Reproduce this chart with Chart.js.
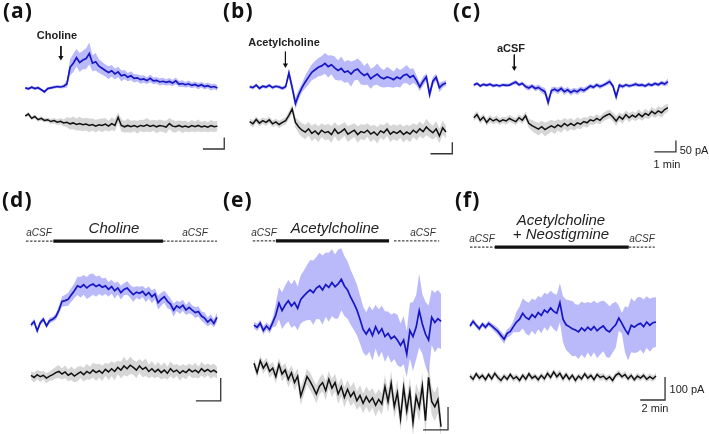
<!DOCTYPE html>
<html>
<head>
<meta charset="utf-8">
<script src="https://cdn.jsdelivr.net/npm/chart.js@4.4.1/dist/chart.umd.min.js"></script>
<style>
    html, body { margin: 0; padding: 0; background: #fff; }
    #fig { position: relative; width: 709px; height: 434px; overflow: hidden; font-family: "Liberation Sans", Arial, sans-serif; color: #111; }
    #fig canvas { position: absolute; }
    .lbl { position: absolute; white-space: nowrap; line-height: 1; transform: translate(-50%, -50%); }
    .panel { font-family: "Open Sans", sans-serif; font-weight: 700; font-size: 21px; transform: none; letter-spacing: 1px; }
    .drug { font-weight: 700; font-size: 11px; color: #222; }
    .drug-i { font-style: italic; font-size: 15px; color: #222; }
    .csf-i { font-style: italic; font-size: 10px; color: #333; }
    .sb { font-size: 11px; color: #222; }
</style>
</head>
<body>
<div id="fig"></div>
<script>
// --- Sample times (min) ---
const TIME_TOP = [0,0.15,0.3,0.45,0.6,0.75,0.9,1.05,1.2,1.35,1.5,1.65,1.8,1.95,2.1,2.25,2.4,2.55,2.7,2.85,3,3.15,3.3,3.45,3.6,3.75,3.9,4.05,4.2,4.35,4.5,4.65,4.8,4.95,5.1,5.25,5.4,5.55,5.7,5.85,6,6.15,6.3,6.45,6.6,6.75,6.9,7.05,7.2,7.35,7.5,7.65,7.8,7.95,8.1,8.25,8.4,8.55,8.7,8.85,9];
const TIME_BOTTOM = [0,0.25,0.5,0.75,1,1.25,1.5,1.75,2,2.25,2.5,2.75,3,3.25,3.5,3.75,4,4.25,4.5,4.75,5,5.25,5.5,5.75,6,6.25,6.5,6.75,7,7.25,7.5,7.75,8,8.25,8.5,8.75,9,9.25,9.5,9.75,10,10.25,10.5,10.75,11,11.25,11.5,11.75,12,12.25,12.5,12.75,13,13.25,13.5,13.75,14,14.25,14.5,14.75,15];

// --- (a) Choline, current in pA (mean and spread) ---
const A_BLUE = [0,-4,3,-3,1,-8,-17,-3,0,3, 6,4,7,17,90,108,132,111,122,128, 150,108,114,95,86,76,67,75,61,70, 53,58,47,53,42,44,36,39,32,42, 31,33,26,29,24,28,21,31,17,19, 14,18,11,15,8,14,6,10,3,6, 0];
const A_BLUE_SD = [6,6,7,6,7,6,7,6,6,7, 6,7,8,15,35,40,38,42,40,45, 48,35,38,30,28,26,28,25,24,22, 24,20,18,20,18,16,18,16,15,17, 15,14,16,15,14,15,14,15,13,14, 12,14,13,12,14,12,13,12,14,12, 13];
const A_BLACK = [-122,-114,-133,-125,-139,-133,-142,-139,-147,-143, -150,-146,-153,-150,-157,-153,-160,-156,-161,-158, -164,-160,-167,-161,-164,-158,-167,-156,-164,-128, -164,-170,-164,-170,-165,-171,-164,-167,-161,-168, -163,-170,-164,-167,-171,-156,-167,-170,-164,-171, -167,-172,-165,-170,-164,-171,-167,-172,-165,-170, -167];
const A_BLACK_SD = [8,10,8,9,8,10,9,10,11,12, 12,14,15,22,25,28,26,30,27,28, 30,26,28,25,30,27,24,28,26,22, 28,25,30,26,24,28,25,27,30,26, 24,28,26,25,28,24,27,25,22,26, 24,22,25,23,26,22,24,22,25,23, 22];

// --- (b) Acetylcholine ---
const B_BLUE = [1,-3,8,-6,3,-1,7,-3,3,0, -6,1,61,-3,-72,-33,-3,22,43,64, 75,86,92,103,89,97,83,72,81,64, 70,56,72,78,61,50,58,36,47,56, 42,36,44,39,32,43,36,50,56,42, 50,28,0,25,44,-33,25,42,-3,11, 17];
const B_BLUE_SD = [7,8,7,8,7,8,7,8,7,8, 8,10,20,22,25,22,20,28,32,35, 38,40,42,45,48,42,50,44,52,46, 48,55,44,46,50,42,48,44,40,46, 42,38,44,40,36,42,38,34,40,36, 32,22,18,20,16,24,18,16,20,14, 12];
const B_BLACK = [-152,-161,-142,-158,-147,-155,-144,-161,-153,-164, -155,-147,-124,-96,-155,-175,-189,-197,-183,-203, -192,-207,-189,-200,-195,-208,-184,-203,-195,-183, -206,-197,-189,-208,-195,-200,-189,-206,-197,-211, -192,-200,-184,-206,-195,-203,-192,-208,-197,-206, -189,-200,-183,-195,-175,-189,-200,-183,-214,-178, -197];
const B_BLACK_SD = [14,16,14,15,14,16,14,15,14,16, 15,16,18,20,22,28,30,32,30,34, 32,35,30,33,34,36,30,34,32,30, 35,32,30,36,32,34,30,35,32,36, 30,33,30,35,32,34,30,35,32,36, 30,34,32,30,36,32,30,34,32,30, 28];

// --- (c) aCSF ---
const C_BLUE = [0,7,-4,3,-1,4,-3,0,-4,1, -1,0,7,13,1,7,-7,-13,-4,-15, -10,-21,-29,-76,-24,-18,-26,-15,-29,-21, -32,-24,-29,-18,-24,-15,-4,-10,1,-7, -1,7,15,-4,-51,-1,-7,1,-4,-1, 4,-1,1,-4,4,-1,7,1,10,4, 15];
const C_BLUE_SD = [7,7,8,7,8,7,8,7,8,7, 8,7,8,9,8,8,10,12,10,12, 12,14,16,22,14,12,14,12,14,12, 14,12,13,12,12,11,10,10,9,10, 9,10,12,10,20,10,9,8,9,8, 9,8,9,8,9,8,9,8,10,10, 14];
const C_BLACK = [-143,-129,-154,-140,-163,-146,-157,-149,-160,-152, -157,-146,-153,-160,-143,-154,-134,-167,-177,-185, -193,-182,-195,-186,-178,-186,-174,-182,-168,-178, -168,-177,-165,-171,-160,-165,-152,-157,-146,-154, -140,-132,-126,-140,-157,-138,-149,-129,-143,-132, -140,-126,-138,-124,-132,-115,-126,-113,-121,-107, -99];
const C_BLACK_SD = [14,16,15,14,16,15,14,16,15,14, 16,15,14,16,15,16,18,20,24,26, 28,26,30,28,26,28,25,27,24,26, 24,22,24,22,20,22,20,18,20,18, 18,20,18,20,22,18,20,18,20,18, 18,20,18,20,18,20,18,20,22,20, 18];

// --- (d) Choline, bath ---
const D_BLUE = [0,15,-25,10,25,-4,19,25,36,65, 102,106,112,131,149,170,164,175,161,172, 178,167,175,164,170,155,167,149,161,141, 155,161,146,132,143,138,146,129,141,123, 135,97,112,123,103,91,65,83,74,86, 65,77,65,54,59,39,30,13,25,7, 33];
const D_BLUE_SD = [10,12,12,11,12,10,12,11,14,18, 22,25,28,30,32,40,45,42,48,50, 46,44,40,38,35,32,30,34,28,30, 26,30,28,32,26,28,24,30,26,28, 24,30,28,26,30,24,28,22,26,24, 22,26,20,24,22,20,24,20,22,18, 20];
const D_BLACK = [-219,-228,-216,-225,-219,-231,-222,-216,-207,-202, -213,-204,-219,-210,-222,-213,-204,-216,-202,-210, -196,-207,-199,-210,-193,-204,-190,-202,-184,-196, -178,-190,-175,-184,-196,-178,-193,-184,-202,-190, -204,-193,-207,-196,-210,-190,-204,-196,-210,-199, -207,-193,-204,-196,-207,-190,-202,-193,-204,-196, -207];
const D_BLACK_SD = [18,22,20,24,18,22,20,24,26,28, 24,28,26,30,28,32,26,30,34,28, 32,36,30,34,28,36,32,38,30,36, 40,34,38,32,36,30,34,38,30,34, 28,32,30,34,28,32,30,26,32,28, 30,26,28,32,26,30,28,26,30,28, 26];

// --- (e) Acetylcholine, bath ---
const E_BLUE = [4,-6,12,-20,0,-15,15,48,99,67, 91,110,87,102,77,116,131,145,157,145, 165,174,157,180,168,189,171,183,203,174, 157,125,99,70,29,-15,-35,-12,-41,-3, -32,-12,-46,-32,-55,-44,-61,-84,-61,-122, -20,-46,-6,67,9,-35,-61,38,15,32, 20];
const E_BLUE_SD = [14,16,15,18,16,18,20,50,70,80, 85,90,95,100,95,105,110,120,130,140, 135,145,150,140,150,145,140,150,135,130, 125,120,115,110,105,100,95,100,110,95, 105,100,110,95,105,100,110,95,105,100, 120,150,140,160,130,140,150,120,130,125, 120];
const E_BLACK = [-162,-203,-151,-183,-162,-197,-183,-220,-167,-209, -191,-232,-203,-246,-218,-305,-264,-220,-241,-267, -296,-262,-246,-281,-232,-270,-246,-296,-264,-310, -275,-307,-287,-325,-302,-336,-307,-331,-313,-345, -319,-339,-264,-328,-249,-351,-290,-403,-267,-370, -283,-420,-306,-354,-261,-412,-223,-328,-351,-319, -438];
const E_BLACK_SD = [20,24,22,26,24,28,26,30,28,32, 30,34,32,36,34,40,36,34,38,36, 40,36,38,42,36,40,38,42,40,44, 40,42,44,40,46,42,44,46,42,48, 44,46,50,48,52,50,55,52,58,54, 58,60,56,62,58,60,64,58,62,60, 56];

// --- (f) Acetylcholine + Neostigmine ---
const F_BLUE = [-4,16,-1,-16,4,-10,7,-4,-16,-28, -45,-62,-36,-28,-7,13,25,51,33,25, 45,33,54,42,65,54,74,59,51,97, 25,1,-7,-16,-22,-30,-13,-25,-10,-22, -7,-25,-13,-4,-22,-30,-13,1,30,7, -19,-39,-1,-10,1,7,-7,13,-1,10, 13];
const F_BLUE_SD = [10,12,10,12,10,12,11,12,14,16, 18,20,18,20,25,45,55,65,70,72, 70,75,72,78,75,80,75,78,80,85, 100,110,115,120,112,118,115,120,110,118, 112,120,115,110,118,112,108,100,55,45, 100,115,118,112,120,115,118,112,115,110, 108];
const F_BLACK = [-222,-236,-212,-231,-219,-238,-215,-234,-210,-228, -241,-222,-236,-215,-234,-225,-241,-219,-236,-212, -231,-222,-238,-219,-234,-210,-228,-204,-225,-210, -234,-215,-236,-219,-241,-222,-234,-212,-231,-219, -238,-215,-228,-222,-236,-225,-241,-219,-210,-225, -215,-234,-219,-238,-222,-231,-219,-236,-225,-234, -222];
const F_BLACK_SD = [12,14,12,15,13,14,12,15,13,14, 15,13,14,12,15,13,14,12,15,13, 14,12,15,13,16,14,15,13,16,14, 15,13,14,12,15,13,14,12,15,13, 14,12,15,13,14,12,15,13,14,12, 15,13,14,12,15,13,14,12,15,13, 14];

// --- Drug application (min) ---
const PUFF_TIMES = [1.67, 1.64, 1.88];              // arrows in (a) (b) (c)
const BATH_WINDOWS = [[1.8, 10.65], [1.76, 10.83], [2.0, 12.8]]; // (d) (e) (f)
const WASH_ENDS = [15, 14.85, 14.9];

const BLUE = '#1616c4';
const BLUE_BAND = 'rgba(118,118,246,0.5)';
const BLACK = '#111111';
const GREY_BAND = 'rgba(140,140,140,0.36)';

// --- Panel geometry (page pixels) ---
const K_TOP = 50 / 12, K_BOT = 100 / 23;
const PANELS = [
    { left: 0,   top: 0,   w: 236, h: 172, x0: 22,  pxMin: 22.1,  y0: 88,  k: K_TOP, time: TIME_TOP, blue: A_BLUE, blueSd: A_BLUE_SD, black: A_BLACK, blackSd: A_BLACK_SD, bar: [9.32, -267, 1, 50], puff: [0, 183, 133] },
    { left: 236, top: 0,   w: 230, h: 172, x0: 246, pxMin: 22.6,  y0: 87,  k: K_TOP, time: TIME_TOP, blue: B_BLUE, blueSd: B_BLUE_SD, black: B_BLACK, blackSd: B_BLACK_SD, bar: [9.29, -292, 1, 50], puff: [1, 154, 96] },
    { left: 462, top: 0,   w: 247, h: 172, x0: 470, pxMin: 22.3,  y0: 85,  k: K_TOP, time: TIME_TOP, blue: C_BLUE, blueSd: C_BLUE_SD, black: C_BLACK, blackSd: C_BLACK_SD, bar: [9.37, -292, 1, 50], puff: [2, 133, 75] },
    { left: 0,   top: 172, w: 236, h: 262, x0: 31,  pxMin: 12.4,  y0: 325, k: K_BOT, time: TIME_BOTTOM, blue: D_BLUE, blueSd: D_BLUE_SD, black: D_BLACK, blackSd: D_BLACK_SD, bar: [15.3, -330, 2, 100], bath: [0, -0.4, 365] },
    { left: 236, top: 172, w: 230, h: 262, x0: 254, pxMin: 12.47, y0: 326, k: K_BOT, time: TIME_BOTTOM, blue: E_BLUE, blueSd: E_BLUE_SD, black: E_BLACK, blackSd: E_BLACK_SD, bar: [15.56, -452, 2, 100], bath: [1, -0.1, 370] },
    { left: 462, top: 172, w: 247, h: 262, x0: 470, pxMin: 12.4,  y0: 325, k: K_BOT, time: TIME_BOTTOM, blue: F_BLUE, blueSd: F_BLUE_SD, black: F_BLACK, blackSd: F_BLACK_SD, bar: [15.73, -326, 2, 100], bath: [2, 0.0, 339] }
];

// --- Text labels: [text, x, y, class] ---
const LABELS = [
    ['(a)', 3, 0, 'panel'], ['(b)', 223, 0, 'panel'], ['(c)', 453, 0, 'panel'],
    ['(d)', 2, 189, 'panel'], ['(e)', 223, 189, 'panel'], ['(f)', 455, 189, 'panel'],
    ['Choline', 57, 35, 'drug'], ['Acetylcholine', 284, 42, 'drug'], ['aCSF', 511, 48, 'drug'],
    ['50 pA', 694, 150, 'sb'], ['1 min', 667, 164, 'sb'],
    ['Choline', 114, 227, 'drug-i'], ['Acetylcholine', 335, 227, 'drug-i'],
    ['Acetylcholine', 561, 219, 'drug-i'], ['+ Neostigmine', 561, 233, 'drug-i'],
    ['aCSF', 39, 233, 'csf-i'], ['aCSF', 195, 233, 'csf-i'], ['aCSF', 264, 233, 'csf-i'],
    ['aCSF', 423, 233, 'csf-i'], ['aCSF', 482, 239, 'csf-i'], ['aCSF', 642, 239, 'csf-i'],
    ['100 pA', 687, 389, 'sb'], ['2 min', 655, 408, 'sb']
];

const fig = document.getElementById('fig');

function series(time, vals, spread, sign) {
    return time.map((t, i) => ({ x: t, y: vals[i] + (spread ? sign * spread[i] : 0) }));
}

function line(data, color, width, extra) {
    return Object.assign({ data: data, borderColor: color, borderWidth: width, pointRadius: 0, tension: 0, fill: false, order: 0 }, extra || {});
}

function buildPanel(p) {
    const cv = document.createElement('canvas');
    cv.width = p.w; cv.height = p.h;
    cv.style.left = p.left + 'px'; cv.style.top = p.top + 'px';
    fig.appendChild(cv);

    const datasets = [
        line(series(p.time, p.blue, p.blueSd, 1), 'transparent', 0, { backgroundColor: BLUE_BAND, fill: '+1', order: 4 }),
        line(series(p.time, p.blue, p.blueSd, -1), 'transparent', 0, { order: 4 }),
        line(series(p.time, p.black, p.blackSd, 1), 'transparent', 0, { backgroundColor: GREY_BAND, fill: '+1', order: 3 }),
        line(series(p.time, p.black, p.blackSd, -1), 'transparent', 0, { order: 3 }),
        line(series(p.time, p.blue), BLUE, 1.7, { order: 1 }),
        line(series(p.time, p.black), BLACK, 1.5, { order: 2 })
    ];

    // scale bar: corner at (t, v), dt wide, dv tall
    const [bt, bv, dt, dv] = p.bar;
    datasets.push(line([{ x: bt - dt, y: bv }, { x: bt, y: bv }, { x: bt, y: bv + dv }], '#333', 1.3));

    if (p.puff) {
        const t = PUFF_TIMES[p.puff[0]];
        datasets.push(line([{ x: t, y: p.puff[1] }, { x: t, y: p.puff[2] }], '#111', 1,
            { pointRadius: [0, 3], pointStyle: 'triangle', pointRotation: 180, pointBackgroundColor: '#111', pointBorderWidth: 0 }));
    }
    if (p.bath) {
        const [on, off] = BATH_WINDOWS[p.bath[0]];
        const start = p.bath[1], y = p.bath[2], end = WASH_ENDS[p.bath[0]];
        const gap = p.bath[0] === 1 ? 0.4 : 0;
        datasets.push(line([{ x: start, y: y }, { x: on, y: y }], '#444', 1.2, { borderDash: [2.5, 1.5] }));
        datasets.push(line([{ x: on, y: y }, { x: off, y: y }], '#111', 3.2));
        datasets.push(line([{ x: off + gap, y: y }, { x: end, y: y }], '#444', 1.2, { borderDash: [2.5, 1.5] }));
    }

    new Chart(cv.getContext('2d'), {
        type: 'line',
        data: { datasets: datasets },
        options: {
            responsive: false, animation: false, devicePixelRatio: 1, events: [],
            layout: { padding: 0 },
            plugins: { legend: { display: false }, tooltip: { enabled: false } },
            scales: {
                x: { type: 'linear', display: false, min: (p.left - p.x0) / p.pxMin, max: (p.left + p.w - p.x0) / p.pxMin },
                y: { type: 'linear', display: false, min: (p.y0 - p.top - p.h) * p.k, max: (p.y0 - p.top) * p.k }
            }
        }
    });
}

PANELS.forEach(buildPanel);

LABELS.forEach(([txt, x, y, cls]) => {
    const el = document.createElement('div');
    el.className = 'lbl ' + cls;
    el.textContent = txt;
    el.style.left = x + 'px'; el.style.top = y + 'px';
    fig.appendChild(el);
});
</script>
</body>
</html>
